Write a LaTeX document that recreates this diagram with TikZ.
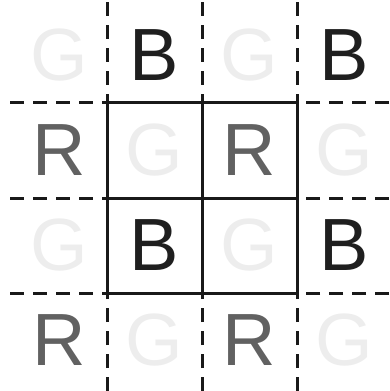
\documentclass[tikz,border=0pt]{standalone}
\usepackage{fontspec}
\setmainfont{Liberation Sans}
\begin{document}
\begin{tikzpicture}[x=1pt,y=-1pt,
  lettr/.style={font=\fontsize{74}{74}\selectfont, inner sep=0pt, anchor=center},
  bl/.style={lettr, text=black!88},
  rd/.style={lettr, text=black!62},
  gr/.style={lettr, text=black!7},
  solidline/.style={line width=3pt, black!90},
  dashline/.style={line width=3pt, black!90, dash pattern=on 14pt off 9pt}]
\useasboundingbox (0,0) rectangle (389,391);
% letters (cell centres x: 59,154,249,344 ; y: 55,150,245,340)
\node[gr] (g11) at (59,55) {G};
\node[bl] (b12) at (154,55) {B};
\node[gr] (g13) at (249,55) {G};
\node[bl] (b14) at (344,55) {B};
\node[rd] (r21) at (59,150) {R};
\node[gr] (g22) at (154,150) {G};
\node[rd] (r23) at (249,150) {R};
\node[gr] (g24) at (344,150) {G};
\node[gr] (g31) at (59,245) {G};
\node[bl] (b32) at (154,245) {B};
\node[gr] (g33) at (249,245) {G};
\node[bl] (b34) at (344,245) {B};
\node[rd] (r41) at (59,340) {R};
\node[gr] (g42) at (154,340) {G};
\node[rd] (r43) at (249,340) {R};
\node[gr] (g44) at (344,340) {G};
% solid inner grid
\draw[solidline] (107,102) rectangle (297,293);
\draw[solidline] (202,102) -- (202,293);
\draw[solidline] (107,198) -- (297,198);
% dashed extensions
\foreach \yy in {102,198,293}{
  \draw[dashline] (10,\yy) -- (107,\yy);
  \draw[dashline] (389,\yy) -- (297,\yy);
}
\foreach \xx in {107,202,297}{
  \draw[dashline] (\xx,2) -- (\xx,102);
  \draw[dashline] (\xx,391) -- (\xx,293);
}
\end{tikzpicture}
\end{document}
